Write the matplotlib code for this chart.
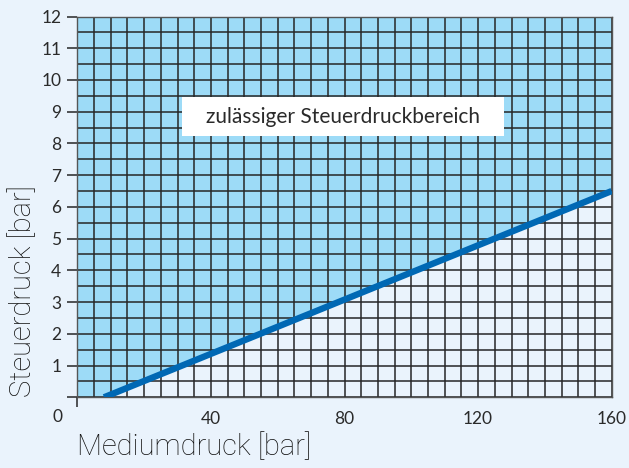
import numpy as np
import matplotlib
matplotlib.use("Agg")
import matplotlib.pyplot as plt
from matplotlib.patches import Rectangle

plt.rcParams['font.family'] = ['Lato', 'DejaVu Sans']

# Boundary of the admissible control-pressure range
medium_pressure = [8, 160]      # bar
control_pressure = [0, 6.5]     # bar

x_tick_values = [40, 80, 120, 160]
x_tick_labels = ['40', '80', '120', '160']
y_tick_values = list(range(0, 13))
y_tick_labels = [''] + [str(v) for v in range(1, 13)]

region_label = 'zulässiger Steuerdruckbereich'
x_label = 'Mediumdruck [bar]'
y_label = 'Steuerdruck [bar]'

bg = '#eaf3fc'
fill_blue = '#9ddbf7'
line_blue = '#0068b4'
grid_col = '#262626'
text_col = '#2a2a2a'

fig = plt.figure(figsize=(6.29, 4.68), dpi=100, facecolor=bg)
ax = fig.add_axes([0.1229, 0.1511, 0.8496, 0.8136])
ax.set_facecolor(bg)
ax.set_xlim(0, 160)
ax.set_ylim(0, 12)

# shaded permissible area above the boundary line
poly_x = [0, medium_pressure[0], medium_pressure[1], 160, 0]
poly_y = [0, control_pressure[0], control_pressure[1], 12, 12]
ax.fill(poly_x, poly_y, color=fill_blue, lw=0, zorder=1)

# fine grid
ax.vlines(np.arange(0, 160.1, 5), 0, 12, color=grid_col, lw=1.1, zorder=2)
ax.hlines(np.arange(0, 12.01, 0.5), 0, 160, color=grid_col, lw=1.1, zorder=2)

# boundary line
ax.plot(medium_pressure, control_pressure, color=line_blue, lw=4.6,
        solid_capstyle='butt', zorder=4)

# label box
ax.add_patch(Rectangle((31.4, 8.24), 96.4, 1.22, facecolor='white',
                       edgecolor='none', zorder=5))
ax.text(79.6, 8.84, region_label, ha='center', va='center',
        fontsize=15, color=text_col, zorder=6)

for s in ax.spines.values():
    s.set_color('#555555')
    s.set_linewidth(1.0)
    s.set_zorder(3)

# y axis ticks
ax.set_yticks(y_tick_values)
ax.set_yticklabels(y_tick_labels)
ax.tick_params(axis='y', length=7.5, width=1.1, color=grid_col, pad=4,
               labelsize=12.5, labelcolor=text_col)

# x axis: labels without ticks, corner ticks only
ax.set_xticks(x_tick_values)
ax.set_xticklabels(x_tick_labels)
ax.tick_params(axis='x', which='major', length=0, pad=10,
               labelsize=12.5, labelcolor=text_col)
ax.set_xticks([0, 160], minor=True)
ax.tick_params(axis='x', which='minor', length=7.5, width=1.1, color=grid_col)

ax.text(-5.9, -0.62, '0', ha='center', va='center', fontsize=12.5,
        color=text_col, clip_on=False)

label_font = dict(family=['Roboto', 'DejaVu Sans'], weight='light',
                  size=21, color='#111111')
ax.text(0, -1.55, x_label, ha='left', va='center', clip_on=False,
        **label_font)
ax.text(-16.4, 0, y_label, ha='center', va='bottom', rotation=90,
        clip_on=False, **label_font)

fig.savefig('out.png', dpi=100, facecolor=bg)
